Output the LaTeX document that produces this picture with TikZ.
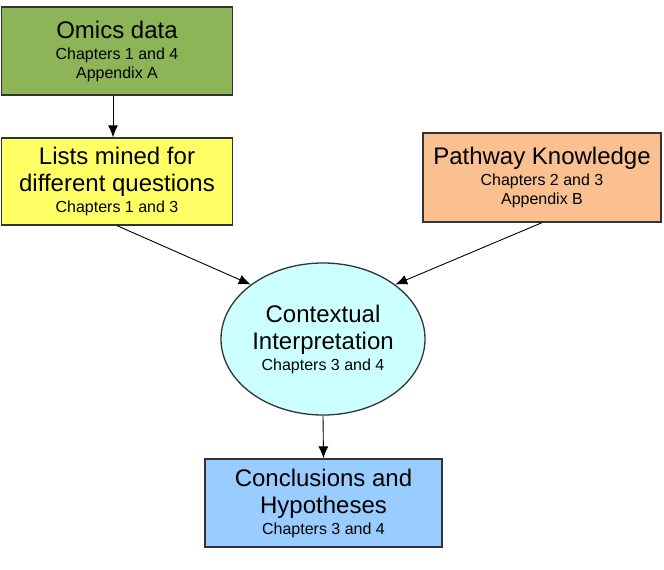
\documentclass[tikz,border=0pt]{standalone}
\usepackage{fontspec}
\setmainfont{Liberation Sans}
\usetikzlibrary{arrows.meta,shapes.geometric}

\definecolor{omicsgreen}{RGB}{141,180,86}
\definecolor{listyellow}{RGB}{255,255,102}
\definecolor{pathpeach}{RGB}{250,192,144}
\definecolor{interpcyan}{RGB}{204,255,255}
\definecolor{conclblue}{RGB}{153,204,255}
\definecolor{edgegray}{RGB}{51,51,51}

\newcommand{\chaptxt}[1]{{\fontsize{16}{19}\selectfont #1}}

\tikzset{
  box/.style={draw=edgegray, line width=1.3pt, inner sep=0pt, align=center,
    font=\fontsize{24}{27}\selectfont},
  flow/.style={-{Latex[length=12pt,width=10pt]}, line width=0.9pt}
}

\begin{document}
\begin{tikzpicture}[x=1pt,y=-1pt]
                \useasboundingbox (0,0) rectangle (664,570);
                \node[box,fill=omicsgreen,minimum width=231pt,minimum height=88pt] (omics) at (117,51)
                    {Omics data\\[-6pt]\chaptxt{Chapters 1 and 4}\\[-8pt]\chaptxt{Appendix A}};
                \node[box,fill=listyellow,minimum width=231pt,minimum height=87pt] (lists) at (117,181.5)
                    {Lists mined for\\different questions\\[-6pt]\chaptxt{Chapters 1 and 3}};
                \node[box,fill=pathpeach,minimum width=238pt,minimum height=89pt] (pathway) at (542,177.5)
                    {Pathway Knowledge\\[-6pt]\chaptxt{Chapters 2 and 3}\\[-8pt]\chaptxt{Appendix B}};
                \node[box,fill=interpcyan,ellipse,minimum width=204pt,minimum height=152pt] (interp) at (323,339)
                    {Contextual\\Interpretation\\[-6pt]\chaptxt{Chapters 3 and 4}};
                \node[box,fill=conclblue,minimum width=237pt,minimum height=88pt] (concl) at (323.5,503)
                    {Conclusions and\\Hypotheses\\[-6pt]\chaptxt{Chapters 3 and 4}};
                \draw[flow]([xshift=-4pt]omics.south)--([xshift=-4pt]lists.north);
                \draw[flow](lists.south)--(interp.143);
                \draw[flow](pathway.south)--(interp.37);
                \draw[flow](interp.south)--(concl.north);
            \end{tikzpicture}
\end{document}
